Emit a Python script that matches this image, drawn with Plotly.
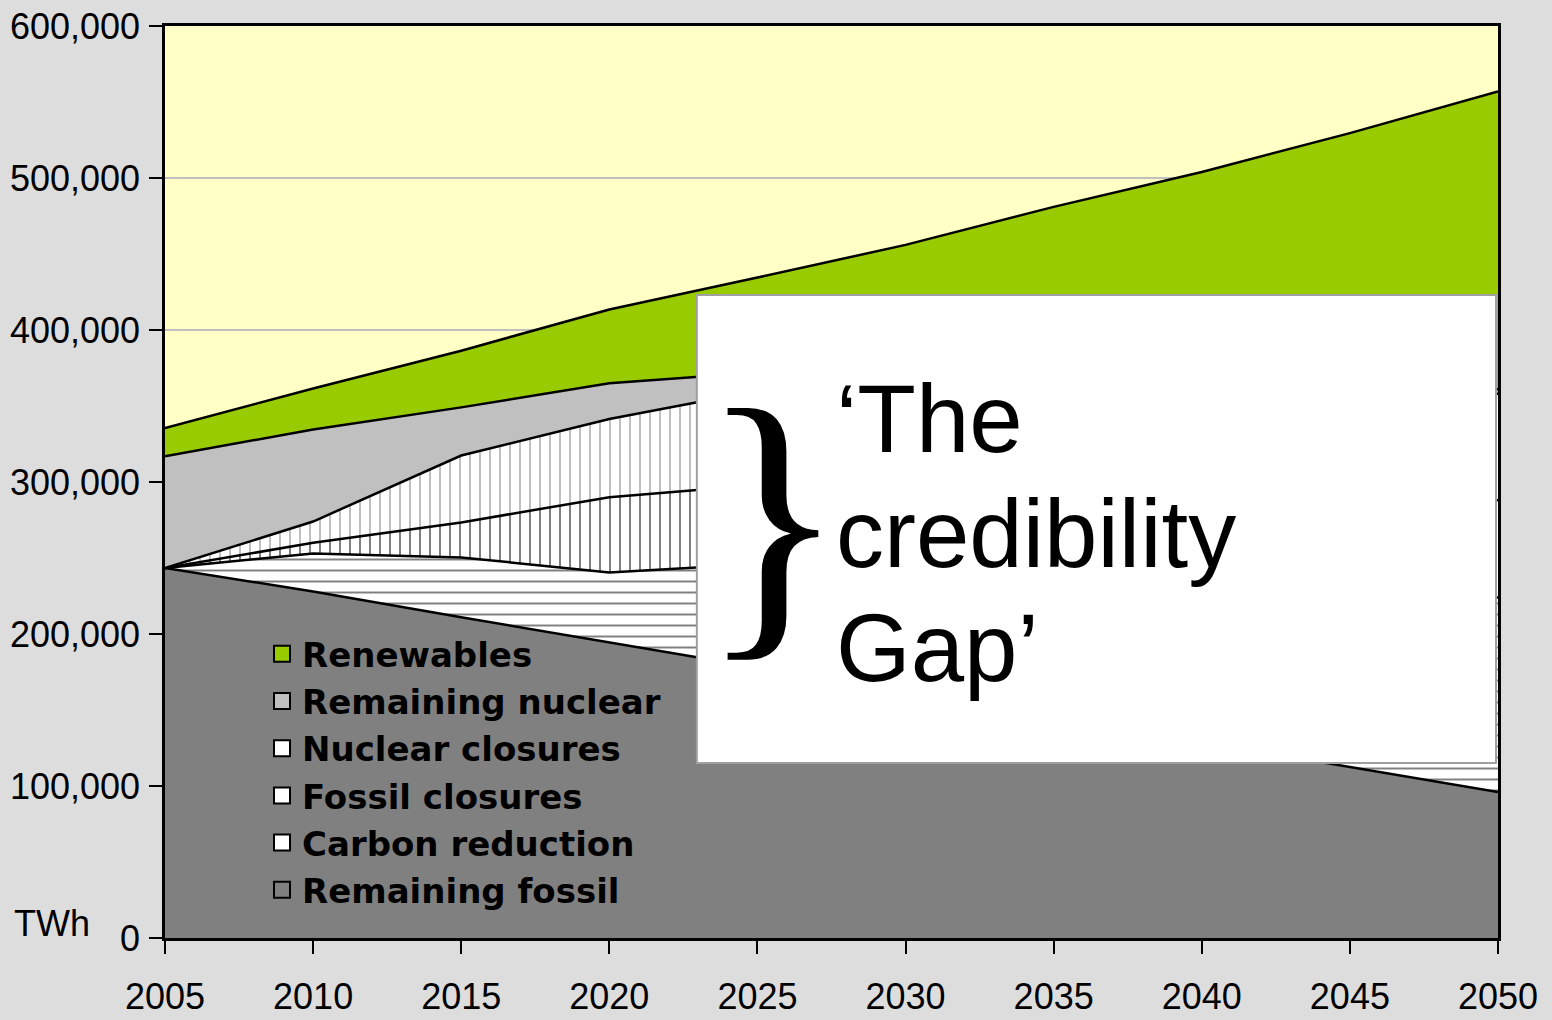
import plotly.graph_objects as go

# ---------------- data (TWh) ----------------
years = [2005, 2010, 2015, 2020, 2025, 2030, 2035, 2040, 2045, 2050]

remaining_fossil  = [243400, 228000, 211000, 194500, 178000, 162000, 145000, 129000, 112500, 96000]
carbon_reduction  = [0, 25000, 39400, 46000, 68000, 80000, 92000, 104000, 116000, 128000]
fossil_closures   = [0, 7000, 23000, 49500, 52000, 55000, 58000, 60000, 62000, 64000]
nuclear_closures  = [0, 14000, 44000, 51500, 62000, 65000, 67000, 68000, 69000, 70000]
remaining_nuclear = [73600, 60500, 31700, 23500, 12000, 8000, 6000, 5000, 4000, 3000]
renewables        = [18500, 27000, 37300, 48500, 62500, 86000, 113000, 138000, 166000, 196000]

series_names = ["Remaining fossil", "Carbon reduction", "Fossil closures",
                "Nuclear closures", "Remaining nuclear", "Renewables"]
legend_order = ["Renewables", "Remaining nuclear", "Nuclear closures",
                "Fossil closures", "Carbon reduction", "Remaining fossil"]

x_ticks = [2005, 2010, 2015, 2020, 2025, 2030, 2035, 2040, 2045, 2050]
y_ticks = [0, 100000, 200000, 300000, 400000, 500000, 600000]

box_lines = ["\u2018The", "credibility", "Gap\u2019"]

# ---------------- styling ----------------
TICK_FONT = "Liberation Sans, Arial, sans-serif"
values = {
    "Remaining fossil": remaining_fossil,
    "Carbon reduction": carbon_reduction,
    "Fossil closures": fossil_closures,
    "Nuclear closures": nuclear_closures,
    "Remaining nuclear": remaining_nuclear,
    "Renewables": renewables,
}
fills = {
    "Remaining fossil": dict(fillcolor="#808080"),
    "Carbon reduction": dict(fillcolor="#FFFFFF",
                             fillpattern=dict(shape="-", fgcolor="#808080", bgcolor="#FFFFFF",
                                              size=11, solidity=0.18, fillmode="replace")),
    "Fossil closures": dict(fillcolor="#FFFFFF",
                            fillpattern=dict(shape="|", fgcolor="#808080", bgcolor="#FFFFFF",
                                             size=10, solidity=0.2, fillmode="replace")),
    "Nuclear closures": dict(fillcolor="#FFFFFF",
                             fillpattern=dict(shape="|", fgcolor="#C0C0C0", bgcolor="#FFFFFF",
                                              size=10, solidity=0.2, fillmode="replace")),
    "Remaining nuclear": dict(fillcolor="#C0C0C0"),
    "Renewables": dict(fillcolor="#99CC00"),
}
legend_colors = {
    "Renewables": "#99CC00",
    "Remaining nuclear": "#C0C0C0",
    "Nuclear closures": "#FFFFFF",
    "Fossil closures": "#FFFFFF",
    "Carbon reduction": "#FFFFFF",
    "Remaining fossil": "#808080",
}

fig = go.Figure()
for name in series_names:
    fig.add_trace(go.Scatter(
        x=years, y=values[name], name=name, mode="lines",
        stackgroup="one", line=dict(color="black", width=2.5),
        showlegend=False, hoverinfo="x+y+name", **fills[name]))

for name in legend_order:
    fig.add_trace(go.Scatter(
        x=[None], y=[None], name=name, mode="markers",
        marker=dict(symbol="square", size=16, color=legend_colors[name],
                    line=dict(color="black", width=2)),
        showlegend=True))

# white overlay box with the annotation
fig.add_shape(type="rect", xref="paper", yref="paper",
              x0=0.399, x1=0.9985, y0=0.192, y1=0.705,
              fillcolor="white", line=dict(color="#A0A0A0", width=2), layer="above")

fig.add_annotation(text="}", xref="paper", yref="paper", x=0.456, y=0.4627,
                   xanchor="center", yanchor="middle", showarrow=False,
                   font=dict(family="Liberation Serif, Times New Roman, serif", size=304, color="black"))
for txt, yy in zip(box_lines, [0.570, 0.443, 0.318]):
    fig.add_annotation(text=txt, xref="paper", yref="paper", x=(834 - 165) / 1333, y=yy,
                       xanchor="left", yanchor="middle", showarrow=False,
                       font=dict(family="Liberation Sans, Arial, sans-serif", size=96, color="black"))

fig.add_annotation(text="TWh", xref="paper", yref="paper", x=(12 - 165) / 1333, y=0.016,
                   xanchor="left", yanchor="middle", showarrow=False,
                   font=dict(family=TICK_FONT, size=36, color="black"))

fig.update_layout(
    width=1552, height=1020,
    margin=dict(l=165, r=54, t=26, b=82, pad=0, autoexpand=False),
    paper_bgcolor="#DDDDDD",
    plot_bgcolor="#FFFFC6",
    showlegend=True,
    legend=dict(x=(262 - 165) / 1333, y=0.343, xanchor="left", yanchor="top",
                traceorder="normal",
                bgcolor="rgba(0,0,0,0)", borderwidth=0, tracegroupgap=0,
                font=dict(family="DejaVu Sans, Verdana, sans-serif", size=34, color="black",
                          weight="bold")),
    xaxis=dict(range=[2005, 2050], tickvals=x_ticks, ticktext=[str(v) for v in x_ticks],
               showgrid=False, zeroline=False, showline=True, linecolor="black",
               linewidth=2.5, mirror=True, ticks="outside", ticklen=13, tickwidth=2,
               tickcolor="black", ticklabelstandoff=12, automargin=False,
               tickfont=dict(family=TICK_FONT, size=36, color="black")),
    yaxis=dict(range=[0, 600000], tickvals=y_ticks, tickformat=",",
               showgrid=True, gridcolor="#C0C0C0", gridwidth=1.5, zeroline=False,
               showline=True, linecolor="black", linewidth=2.5, mirror=True,
               ticks="outside", ticklen=13, tickwidth=2, tickcolor="black",
               ticklabelstandoff=2, automargin=False,
               tickfont=dict(family=TICK_FONT, size=36, color="black")),
)

fig.write_html("out.html", config={"displayModeBar": False},
               post_script="document.body.style.margin='0';document.body.style.overflow='hidden';")
